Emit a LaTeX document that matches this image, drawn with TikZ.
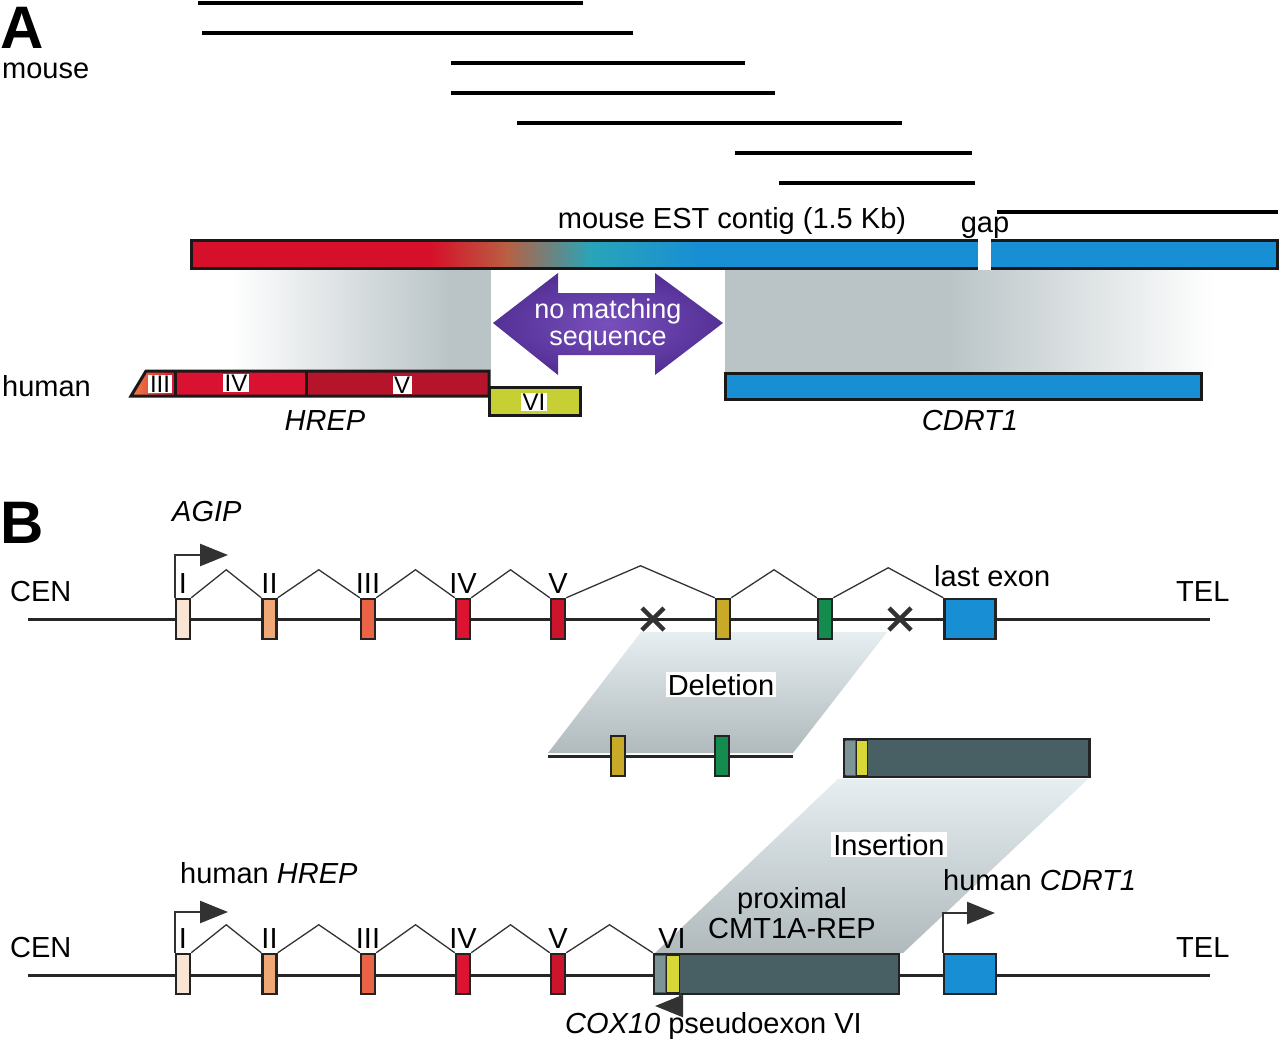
\documentclass[tikz,border=0pt]{standalone}
\usepackage{fontspec}
\setmainfont{Liberation Sans}
\usetikzlibrary{calc,arrows.meta}
\definecolor{cred}{RGB}{214,16,42}
\definecolor{cbrown}{RGB}{185,95,65}
\definecolor{cteal}{RGB}{40,165,185}
\definecolor{cblue}{RGB}{24,142,212}
\definecolor{cgray}{RGB}{186,196,199}
\definecolor{cgrayb}{RGB}{176,185,188}
\definecolor{clight}{RGB}{230,238,242}
\definecolor{cpurL}{RGB}{120,80,188}
\definecolor{cpurD}{RGB}{84,48,150}
\definecolor{cIV}{RGB}{216,18,48}
\definecolor{cV}{RGB}{182,20,42}
\definecolor{corange}{RGB}{240,130,70}
\definecolor{cvi}{RGB}{198,208,52}
\definecolor{exA}{RGB}{250,228,212}
\definecolor{exB}{RGB}{240,168,118}
\definecolor{exC}{RGB}{236,100,70}
\definecolor{exD}{RGB}{220,20,50}
\definecolor{exE}{RGB}{205,20,45}
\definecolor{exY}{RGB}{200,170,40}
\definecolor{exG}{RGB}{20,140,80}
\definecolor{exVI}{RGB}{215,215,55}
\definecolor{cmt}{RGB}{72,96,100}
\definecolor{cmtL}{RGB}{125,148,150}
\definecolor{darkg}{RGB}{50,50,50}
\definecolor{exb}{RGB}{35,35,35}
\newcommand{\lbfont}{\fontsize{29}{33}\selectfont}
\newcommand{\lbsmall}{\fontsize{24}{26}\selectfont}
\newcommand{\spliceline}[3]{\draw[splice] (#1.north east) -- ($(#1.north east)!.5!(#2.north west)+(0,-#3)$) -- (#2.north west);}
\begin{document}
\begin{tikzpicture}[x=1pt,y=-1pt,
  lbl/.style={font=\lbfont, inner sep=0pt},
  exon/.style={draw=exb, line width=2.5pt, minimum width=14pt, minimum height=40pt, inner sep=0pt},
  est/.style={line width=3.2pt, draw=black},
  gene/.style={line width=3pt, draw=black!85},
  splice/.style={line width=1.3pt, draw=black!80},
  prom/.style={line width=2.5pt, draw=darkg, -{Triangle[length=28pt,width=22pt,fill=darkg]}},
  xmark/.style={line width=4.5pt, draw=darkg},
  romlbl/.style={font=\lbsmall, fill=white, inner xsep=1.5pt, inner ysep=1pt},
  barbox/.style={line width=3pt, draw=black!90},
  whitebox/.style={font=\lbfont, fill=white, inner xsep=2pt, inner ysep=2pt}]
\useasboundingbox (0,0) rectangle (1280,1050);
\fill[white] (0,0) rectangle (1280,1050);

% ---------------- Panel A ----------------
\node[anchor=base west, inner sep=0pt, font=\fontsize{60}{60}\selectfont\bfseries] (pA) at (0,48) {A};
\node[lbl, anchor=base west] (mouse) at (2,78) {mouse};

\draw[est] (198,3) -- (583,3);
\draw[est] (202,33) -- (633,33);
\draw[est] (451,63) -- (745,63);
\draw[est] (451,93) -- (775,93);
\draw[est] (517,123) -- (902,123);
\draw[est] (735,153) -- (972,153);
\draw[est] (779,183) -- (975,183);
\draw[est] (997,212) -- (1278,212);

% mapping shading
\shade[left color=white, right color=cgray] (230,270) rectangle (450,370);
\fill[cgray] (449,270) rectangle (491,370);
\fill[cgray] (725,270) rectangle (952,372);
\shade[left color=cgray, right color=white] (950,270) rectangle (1215,372);

% contig bar
\fill[cred] (191,240) rectangle (432,268);
\shade[left color=cred, right color=cbrown] (430,240) rectangle (507,268);
\shade[left color=cbrown, right color=cteal] (505,240) rectangle (592,268);
\shade[left color=cteal, right color=cblue] (590,240) rectangle (702,268);
\fill[cblue] (700,240) rectangle (978,268);
\fill[cblue] (991,240) rectangle (1277,268);
\draw[barbox] (978,240) -- (191,240) -- (191,268) -- (978,268);
\draw[barbox] (991,240) -- (1277,240) -- (1277,268) -- (991,268);
\node[lbl, anchor=base] (contig) at (732,228) {mouse EST contig (1.5 Kb)};
\node[lbl, anchor=base] (gap) at (985,232) {gap};

% no matching sequence arrow
\shade[inner color=cpurL, outer color=cpurD] (493,323) -- (558,273) -- (558,293) -- (655,293) -- (655,273) -- (723,323) -- (655,375) -- (655,355) -- (558,355) -- (558,375) -- cycle;
\node[anchor=base, inner sep=0pt, font=\fontsize{27}{30}\selectfont, text=white] (nm1) at (608,318) {no matching};
\node[anchor=base, inner sep=0pt, font=\fontsize{27}{30}\selectfont, text=white] (nm2) at (608,345) {sequence};

% human HREP bar
\node[lbl, anchor=base west] (human) at (2,396) {human};
\fill[cIV] (131,396) -- (146,371) -- (489,371) -- (489,396) -- cycle;
\fill[cV] (306,371) rectangle (489,396);
\shade[left color=corange, right color=cIV] (131,396) -- (146,371) -- (175,371) -- (175,396) -- cycle;
\draw[barbox] (175,371) -- (175,396);
\draw[barbox] (306,371) -- (306,396);
\draw[barbox] (131,396) -- (146,371) -- (489,371) -- (489,396) -- cycle;
\node[romlbl] (hIII) at (160,384) {III};
\node[romlbl] (hIV) at (236,383) {IV};
\node[romlbl] (hV) at (402,385) {V};
\draw[barbox, fill=cvi] (489,387) rectangle (580,415);
\node[romlbl] (hVI) at (534,402) {VI};
\node[lbl, anchor=base, font=\lbfont\itshape] (hrep) at (325,430) {HREP};

% CDRT1 bar
\draw[barbox, fill=cblue] (725,373) rectangle (1201,399);
\node[lbl, anchor=base, font=\lbfont\itshape] (cdrt) at (970,430) {CDRT1};

% ---------------- Panel B ----------------
\node[anchor=base west, inner sep=0pt, font=\fontsize{60}{60}\selectfont\bfseries] (pB) at (0,543) {B};
\node[lbl, anchor=base west, font=\lbfont\itshape] (agip) at (172,521) {AGIP};

% deletion shading
\shade[top color=clight, bottom color=cgrayb] (641,632) -- (887,632) -- (793,753) -- (548,753) -- cycle;
% insertion shading
\shade[top color=clight, bottom color=cgrayb] (838,779) -- (1088,779) -- (903,953) -- (655,953) -- cycle;

% row 1
\node[lbl, anchor=base west] (cen1) at (10,601) {CEN};
\node[lbl, anchor=base west] (tel1) at (1176,601) {TEL};
\coordinate (l1a) at (28,619);
\coordinate (l1b) at (1210,619);
\draw[gene] (l1a) -- (l1b);
\node[exon, fill=exA] (a1) at (183,619) {};
\node[exon, fill=exB] (a2) at (269.5,619) {};
\node[exon, fill=exC] (a3) at (368,619) {};
\node[exon, fill=exD] (a4) at (463,619) {};
\node[exon, fill=exE] (a5) at (558,619) {};
\node[exon, fill=exY] (aY) at (723,619) {};
\node[exon, fill=exG] (aG) at (825,619) {};
\node[exon, fill=cblue, minimum width=51pt] (aL) at (970,619) {};
\draw[xmark] (642,608) -- (664,630) (642,630) -- (664,608);
\draw[xmark] (889,608) -- (911,630) (889,630) -- (911,608);
\spliceline{a1}{a2}{28}
\spliceline{a2}{a3}{28}
\spliceline{a3}{a4}{28}
\spliceline{a4}{a5}{28}
\spliceline{a5}{aY}{32}
\spliceline{aY}{aG}{28}
\spliceline{aG}{aL}{30}
\coordinate (t1) at (228,555);
\draw[prom] (a1.north west) |- (t1);
\node[lbl, anchor=base] (ra1) at (183,593) {I};
\node[lbl, anchor=base] (ra2) at (269.5,593) {II};
\node[lbl, anchor=base] (ra3) at (368,593) {III};
\node[lbl, anchor=base] (ra4) at (463,593) {IV};
\node[lbl, anchor=base] (ra5) at (558,593) {V};
\node[lbl, anchor=base west] (last) at (934,586) {last exon};

% deleted segment
\coordinate (d1) at (548,756);
\coordinate (d2) at (793,756);
\draw[gene] (d1) -- (d2);
\node[exon, fill=exY] (dY) at (618,756) {};
\node[exon, fill=exG] (dG) at (722,756) {};
\node[whitebox, anchor=base] (del) at (721,695) {Deletion};

% inserted segment
\node[exon, fill=cmt, minimum width=245pt, minimum height=38pt] (iR) at (967,758) {};
\fill[cmtL] (845,741) rectangle (855,775);
\node[draw=exb, line width=1pt, fill=exVI, minimum width=11pt, minimum height=35pt, inner sep=0pt] (iY) at (862,758) {};
\node[whitebox, anchor=base] (ins) at (889,855) {Insertion};

% row 2
\node[lbl, anchor=base west] (cen2) at (10,957) {CEN};
\node[lbl, anchor=base west] (tel2) at (1176,957) {TEL};
\node[lbl, anchor=base west] (hhrep) at (180,883) {human \textit{HREP}};
\coordinate (l2a) at (28,975);
\coordinate (l2b) at (1210,975);
\draw[gene] (l2a) -- (l2b);
\node[exon, fill=exA] (b1) at (183,974) {};
\node[exon, fill=exB] (b2) at (269.5,974) {};
\node[exon, fill=exC] (b3) at (368,974) {};
\node[exon, fill=exD] (b4) at (463,974) {};
\node[exon, fill=exE] (b5) at (558,974) {};
\node[exon, fill=cmt, minimum width=245pt] (bR) at (776.5,974) {};
\fill[cmtL] (655,956) rectangle (665,992);
\node[draw=exb, line width=1pt, fill=exVI, minimum width=13pt, minimum height=37pt, inner sep=0pt] (bY) at (673,974) {};
\node[exon, fill=cblue, minimum width=52pt] (bC) at (970,974) {};
\spliceline{b1}{b2}{28}
\spliceline{b2}{b3}{28}
\spliceline{b3}{b4}{28}
\spliceline{b4}{b5}{28}
\spliceline{b5}{bR}{28}
\coordinate (t2) at (228,912);
\draw[prom] (b1.north west) |- (t2);
\coordinate (t3) at (995,913);
\draw[prom] (bC.north west) |- (t3);
\coordinate (t4) at (655,1006);
\draw[prom] (bY.south east) |- (t4);
\node[lbl, anchor=base] (rb1) at (183,948) {I};
\node[lbl, anchor=base] (rb2) at (269.5,948) {II};
\node[lbl, anchor=base] (rb3) at (368,948) {III};
\node[lbl, anchor=base] (rb4) at (463,948) {IV};
\node[lbl, anchor=base] (rb5) at (558,948) {V};
\node[lbl, anchor=base] (rb6) at (672,948) {VI};
\node[lbl, anchor=base] (prox1) at (792,908) {proximal};
\node[lbl, anchor=base] (prox2) at (792,938) {CMT1A-REP};
\node[lbl, anchor=base west] (hcdrt) at (943,890) {human \textit{CDRT1}};
\node[lbl, anchor=base west] (cox) at (565,1033) {\textit{COX10} pseudoexon VI};
\end{tikzpicture}
\end{document}
